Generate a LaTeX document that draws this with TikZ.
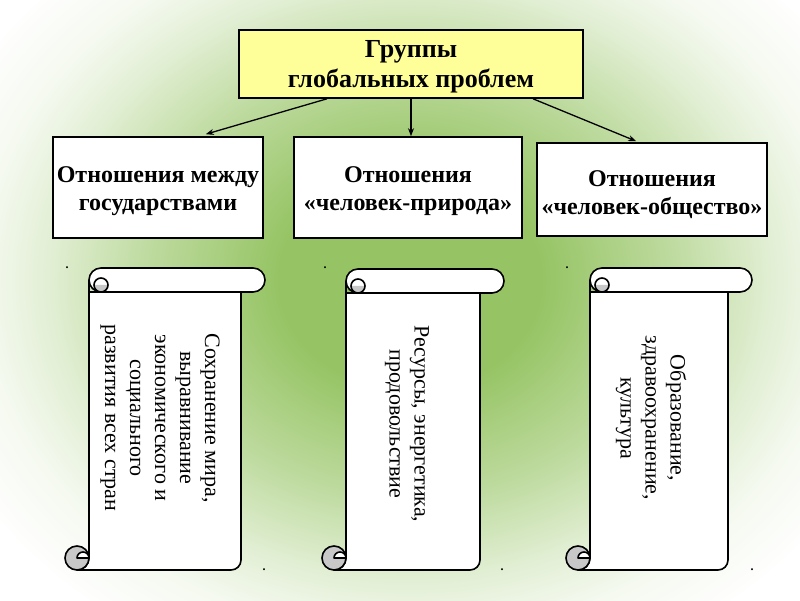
\documentclass[tikz,border=0pt]{standalone}
\usepackage{fontspec}
\setmainfont{Liberation Serif}
\usetikzlibrary{arrows.meta,calc}
\definecolor{bgg}{RGB}{150,196,100}
\definecolor{boxyellow}{RGB}{255,255,153}
\definecolor{curlgray}{RGB}{200,200,200}
\pgfdeclareradialshading{bgshade}{\pgfpoint{0bp}{0bp}}{color(0bp)=(bgg); color(8bp)=(bgg); color(16bp)=(bgg!62!white); color(22bp)=(bgg!28!white); color(26bp)=(bgg!10!white); color(31bp)=(white); color(50bp)=(white)}
\newcommand\myscroll[4]{%
\begin{scope}[shift={(#1,#2)}]
\draw[sline,fill=white] (24,{#4-12}) -- (24,12) arc[start angle=0,end angle=-90,radius=12] -- ({#3-34},0) arc[start angle=-90,end angle=0,radius=10] -- ({#3-24},{#4-24}) -- (24,{#4-24});
\draw[sline,fill=white,rounded corners=12pt] (24,{#4-24}) rectangle (#3,#4);
\fill[curlgray] (29,{#4-17}) arc[start angle=180,end angle=360,radius=7] -- cycle;
\draw[sline] (36,{#4-17}) circle (7);
\draw[sline,fill=curlgray] (12,12) circle (12);
\draw[sline,fill=white] (24,12) arc[start angle=0,end angle=180,radius=6] -- cycle;
\end{scope}}
\begin{document}
\begin{tikzpicture}[x=1pt,y=1pt,
  sline/.style={line width=1.6pt,line join=round},
  boxstyle/.style={draw,line width=1.6pt,fill=white,inner sep=0pt},
  boxtext/.style={align=center,inner sep=0pt,font=\bfseries\fontsize{24}{28}\selectfont},
  scrolltext/.style={rotate=-90,align=center,font=\fontsize{22}{25}\selectfont},
  dotnode/.style={inner sep=0pt,font=\bfseries\fontsize{12}{12}\selectfont},
  arr/.style={line width=1.3pt,-{Stealth[length=8pt,width=6pt]}}]
\useasboundingbox (0,0) rectangle (800,600);
\clip (0,0) rectangle (800,600);
\fill[white] (0,0) rectangle (800,600);
\shade[shading=bgshade] (0,-20) rectangle (820,660);
% header
\node[boxstyle,fill=boxyellow,minimum width=344pt,minimum height=68pt] (top) at (411,536) {};
\node[boxtext,font=\bfseries\fontsize{26}{30}\selectfont] (topt) at ([yshift=-3pt]top.center) {Группы\\глобальных проблем};
\node[boxstyle,minimum width=210pt,minimum height=101pt] (b1) at (158,412.5) {};
\node[boxtext] (b1t) at ([yshift=-4pt]b1.center) {Отношения между\\государствами};
\node[boxstyle,minimum width=228pt,minimum height=101pt] (b2) at (408,412.5) {};
\node[boxtext] (b2t) at ([yshift=-4pt]b2.center) {Отношения\\«человек-природа»};
\node[boxstyle,minimum width=230pt,minimum height=93pt] (b3) at (652,410.5) {};
\node[boxtext] (b3t) at ([yshift=-5pt]b3.center) {Отношения\\«человек-общество»};
\draw[arr] ([xshift=-84pt]top.south) -- ([xshift=-58pt,yshift=2pt]b1.north east);
\draw[arr] ([xshift=0pt]top.south) -- ([xshift=3pt]b2.north);
\draw[arr] ([xshift=122pt]top.south) -- ([xshift=100pt,yshift=1pt]b3.north west);
% scrolls
\myscroll{65}{30}{200}{302}
\myscroll{322}{30}{182}{301}
\myscroll{566}{30}{186}{302}
\node[scrolltext] (s1) at (160,182) {Сохранение мира,\\выравнивание\\экономического и\\социального\\развития всех стран};
\node[scrolltext] (s2) at (407,176) {Ресурсы, энергетика,\\продовольствие};
\node[scrolltext] (s3) at (651,182) {Образование,\\здравоохранение,\\культура};
% dots
\node[dotnode] (d1) at (67,332) {.};
\node[dotnode] (d2) at (325,332) {.};
\node[dotnode] (d3) at (567,332) {.};
\node[dotnode] (d4) at (264,30) {.};
\node[dotnode] (d5) at (502,30) {.};
\node[dotnode] (d6) at (752,30) {.};
\end{tikzpicture}
\end{document}
